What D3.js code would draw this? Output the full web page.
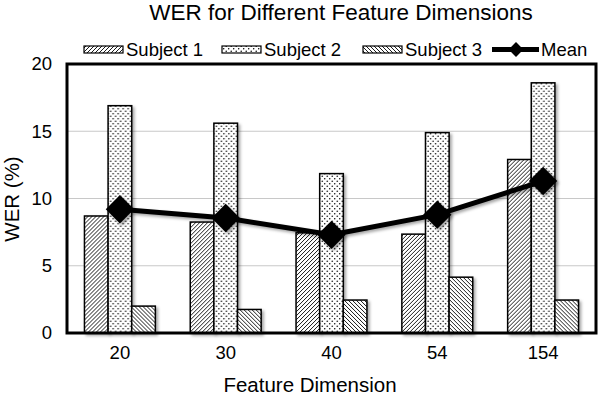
<!DOCTYPE html>
<html>
<head>
<meta charset="utf-8">
<script src="https://cdn.jsdelivr.net/npm/d3@7"></script>
<style>
  body { margin: 0; background: #fff; }
  text { font-family: "Liberation Sans", Arial, sans-serif; fill: #000; }
</style>
</head>
<body>
<script>
// values
var dims = ["20", "30", "40", "54", "154"];
var subjects = ["Subject 1", "Subject 2", "Subject 3"];
var subject1 = [8.7, 8.25, 7.45, 7.35, 12.9];
var subject2 = [16.9, 15.6, 11.85, 14.9, 18.6];
var subject3 = [2.0, 1.75, 2.45, 4.15, 2.45];
var meanWer = [9.2, 8.55, 7.3, 8.8, 11.3];
var yTicks = [0, 5, 10, 15, 20];

var W = 600, H = 404;
var plotL = 67, plotR = 596, plotT = 64, plotB = 333;

var svg = d3.select("body").append("svg")
  .attr("width", W).attr("height", H);

var defs = svg.append("defs");

// fill patterns for the three subjects
var p1 = defs.append("pattern").attr("id", "hatch1")
  .attr("patternUnits", "userSpaceOnUse").attr("width", 4).attr("height", 4);
p1.append("rect").attr("width", 4).attr("height", 4).attr("fill", "#fff");
p1.append("path").attr("d", "M-1,1 l2,-2 M0,4 l4,-4 M3,5 l2,-2")
  .attr("stroke", "#000").attr("stroke-width", 0.9);

var p2 = defs.append("pattern").attr("id", "dots")
  .attr("patternUnits", "userSpaceOnUse").attr("width", 5).attr("height", 5);
p2.append("rect").attr("width", 5).attr("height", 5).attr("fill", "#fff");
p2.append("circle").attr("cx", 1.2).attr("cy", 1.2).attr("r", 0.75).attr("fill", "#000");
p2.append("circle").attr("cx", 3.7).attr("cy", 3.7).attr("r", 0.75).attr("fill", "#000");

var p3 = defs.append("pattern").attr("id", "hatch3")
  .attr("patternUnits", "userSpaceOnUse").attr("width", 4).attr("height", 4);
p3.append("rect").attr("width", 4).attr("height", 4).attr("fill", "#fff");
p3.append("path").attr("d", "M-1,3 l2,2 M0,0 l4,4 M3,-1 l2,2")
  .attr("stroke", "#000").attr("stroke-width", 0.9);

var fills = ["url(#hatch1)", "url(#dots)", "url(#hatch3)"];

var shadow = defs.append("filter").attr("id", "shadow")
  .attr("x", "-20%").attr("y", "-20%").attr("width", "160%").attr("height", "160%");
shadow.append("feDropShadow").attr("dx", 2).attr("dy", 2)
  .attr("stdDeviation", 1.5).attr("flood-color", "#000").attr("flood-opacity", 0.35);

// scales
var x = d3.scaleBand().domain(dims).range([plotL, plotR])
  .paddingInner(0.33).paddingOuter(0.165);
var xs = d3.scaleBand().domain(subjects).range([0, x.bandwidth()]);
var y = d3.scaleLinear().domain([0, 20]).range([plotB, plotT]);

// gridlines
svg.append("g").selectAll("line")
  .data(yTicks.filter(function(d) { return d > 0 && d < 20; }))
  .enter().append("line")
    .attr("x1", plotL).attr("x2", plotR)
    .attr("y1", function(d) { return y(d); })
    .attr("y2", function(d) { return y(d); })
    .attr("stroke", "#c8c8c8").attr("stroke-width", 1.2);

// bars
var rows = dims.map(function(d, i) {
  return { dim: d, vals: [subject1[i], subject2[i], subject3[i]] };
});

var groups = svg.append("g").selectAll("g")
  .data(rows).enter().append("g")
    .attr("transform", function(d) { return "translate(" + x(d.dim) + ",0)"; });

groups.selectAll("rect")
  .data(function(d) { return d.vals.map(function(v, j) { return { s: subjects[j], v: v, j: j }; }); })
  .enter().append("rect")
    .attr("x", function(d) { return xs(d.s); })
    .attr("width", xs.bandwidth())
    .attr("y", function(d) { return y(d.v); })
    .attr("height", function(d) { return plotB - y(d.v); })
    .attr("fill", function(d) { return fills[d.j]; })
    .attr("stroke", "#000").attr("stroke-width", 1.5)
    .attr("filter", "url(#shadow)");

// mean line with diamond markers
var line = d3.line()
  .x(function(d, i) { return x(dims[i]) + x.bandwidth() / 2; })
  .y(function(d) { return y(d); });

var meanG = svg.append("g").attr("filter", "url(#shadow)");
meanG.append("path").datum(meanWer)
  .attr("d", line).attr("fill", "none")
  .attr("stroke", "#000").attr("stroke-width", 5).attr("stroke-linejoin", "round");

meanG.selectAll("path.mk").data(meanWer).enter().append("path")
  .attr("class", "mk")
  .attr("d", d3.symbol().type(d3.symbolSquare).size(400))
  .attr("transform", function(d, i) {
    return "translate(" + (x(dims[i]) + x.bandwidth() / 2) + "," + y(d) + ") rotate(45)";
  })
  .attr("fill", "#000");

// plot frame
svg.append("rect")
  .attr("x", plotL).attr("y", plotT)
  .attr("width", plotR - plotL).attr("height", plotB - plotT)
  .attr("fill", "none").attr("stroke", "#000").attr("stroke-width", 3);

// y tick labels
svg.append("g").selectAll("text")
  .data(yTicks).enter().append("text")
    .attr("x", 52).attr("y", function(d) { return y(d); })
    .attr("dy", "0.35em")
    .attr("text-anchor", "end")
    .style("font-size", "18.5px")
    .text(function(d) { return d; });

// x tick labels
svg.append("g").selectAll("text")
  .data(dims).enter().append("text")
    .attr("x", function(d) { return x(d) + x.bandwidth() / 2; })
    .attr("y", 359)
    .attr("text-anchor", "middle")
    .style("font-size", "18.5px")
    .text(function(d) { return d; });

// titles
svg.append("text")
  .attr("x", 341).attr("y", 20)
  .attr("text-anchor", "middle")
  .style("font-size", "22.5px")
  .text("WER for Different Feature Dimensions");

svg.append("text")
  .attr("x", 310).attr("y", 392)
  .attr("text-anchor", "middle")
  .style("font-size", "20.5px")
  .text("Feature Dimension");

svg.append("text")
  .attr("transform", "translate(19,199) rotate(-90)")
  .attr("text-anchor", "middle")
  .style("font-size", "20.5px")
  .text("WER (%)");

// legend
var legX = [84, 222, 363];
var leg = svg.append("g");
subjects.forEach(function(s, i) {
  leg.append("rect")
    .attr("x", legX[i]).attr("y", 46).attr("width", 39).attr("height", 7)
    .attr("fill", fills[i]).attr("stroke", "#000").attr("stroke-width", 1.2);
  leg.append("text")
    .attr("x", legX[i] + 42).attr("y", 56)
    .style("font-size", "18.5px")
    .text(s);
});
leg.append("line")
  .attr("x1", 492).attr("x2", 539).attr("y1", 49.5).attr("y2", 49.5)
  .attr("stroke", "#000").attr("stroke-width", 5);
leg.append("path")
  .attr("d", d3.symbol().type(d3.symbolSquare).size(110))
  .attr("transform", "translate(516,49.5) rotate(45)")
  .attr("fill", "#000");
leg.append("text")
  .attr("x", 541).attr("y", 56)
  .style("font-size", "18.5px")
  .text("Mean");
</script>
</body>
</html>
